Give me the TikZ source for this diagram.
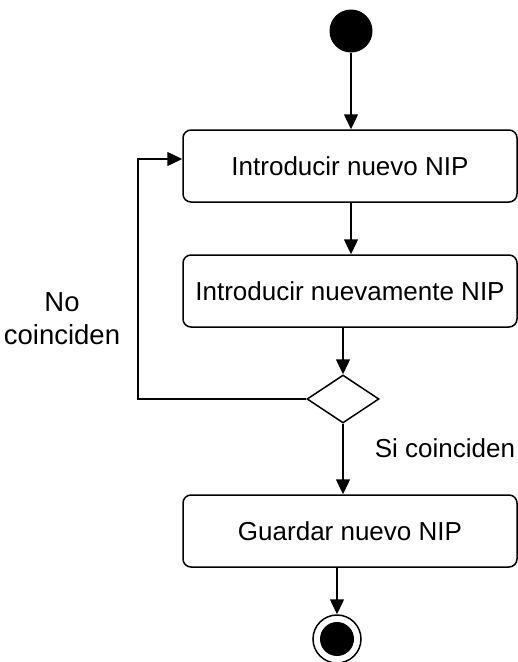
\documentclass[tikz,border=0pt]{standalone}
\usepackage{fontspec}
\setmainfont{Liberation Sans}
\usetikzlibrary{shapes.geometric,arrows.meta}

\begin{document}
\begin{tikzpicture}[x=1pt,y=-1pt,line width=1.5pt,font=\fontsize{26}{33}\selectfont,
  act/.style={draw,rounded corners=8pt,minimum width=334pt,minimum height=72pt,inner sep=0pt},
  flow/.style={-{Triangle[length=15pt,width=14pt]}}]
\useasboundingbox (0,0) rectangle (518,662);
\node[circle,fill,minimum size=43pt,inner sep=0pt] (start) at (351,31) {};
\foreach \n/\y/\t in {b1/166/Introducir nuevo NIP,b2/291/Introducir nuevamente NIP,b3/531/Guardar nuevo NIP}{\node[act] (\n) at (350,\y) {\t};}
\node[diamond,draw,minimum width=72pt,minimum height=48pt,inner sep=0pt,shape aspect=1.5] (dec) at (343,399) {};
\node[circle,draw,minimum size=48pt,inner sep=0pt] (end) at (337,639) {}; \fill (end) circle (17pt);
\coordinate (loop) at (138,159);
\draw[flow] (start) -- (start |- b1.north); \draw[flow] (b1.south -| start) -- (b2.north -| start);
\draw[flow] (b2.south -| dec.north) -- (dec.north); \draw[flow] (dec.south) -- (dec.south |- b3.north);
\draw[flow] (b3.south -| end) -- (end.north);
\draw[flow] (dec.west) -- (dec.west -| loop) -- (loop) -- (loop -| b1.west);
\node[align=center,font=\fontsize{27.5}{33}\selectfont] (no) at (62,319) {No\\coinciden}; \node (si) at (445,448) {Si coinciden};
\end{tikzpicture}
\end{document}
